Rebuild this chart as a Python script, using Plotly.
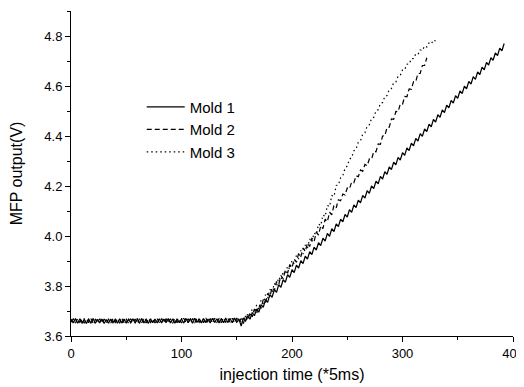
import plotly.graph_objects as go

# sample times (*5 ms), every 2 units
x1 = list(range(0, 393, 2))
x2 = list(range(0, 323, 2))
x3 = list(range(0, 331, 2))

mold1 = [
    3.668, 3.652, 3.670, 3.651, 3.669, 3.653, 3.667, 3.650, 3.668, 3.652,
    3.669, 3.651, 3.667, 3.652, 3.668, 3.650, 3.666, 3.651, 3.668, 3.653,
    3.667, 3.651, 3.669, 3.652, 3.668, 3.651, 3.667, 3.653, 3.669, 3.652,
    3.668, 3.651, 3.670, 3.652, 3.667, 3.651, 3.669, 3.653, 3.668, 3.652,
    3.669, 3.652, 3.668, 3.653, 3.670, 3.652, 3.668, 3.651, 3.669, 3.653,
    3.668, 3.652, 3.670, 3.653, 3.669, 3.651, 3.671, 3.654, 3.669, 3.652,
    3.670, 3.653, 3.668, 3.652, 3.671, 3.654, 3.669, 3.652, 3.670, 3.653,
    3.671, 3.654, 3.669, 3.653, 3.672, 3.655, 3.668, 3.640, 3.672, 3.660,
    3.680, 3.667, 3.694, 3.681, 3.708, 3.695, 3.725, 3.715, 3.745, 3.735,
    3.765, 3.755, 3.785, 3.775, 3.805, 3.795, 3.825, 3.815, 3.845, 3.835,
    3.865, 3.854, 3.883, 3.872, 3.901, 3.890, 3.919, 3.908, 3.937, 3.926,
    3.955, 3.944, 3.973, 3.962, 3.991, 3.980, 4.010, 3.999, 4.029, 4.018,
    4.048, 4.038, 4.067, 4.057, 4.086, 4.076, 4.105, 4.095, 4.124, 4.114,
    4.143, 4.133, 4.162, 4.152, 4.181, 4.171, 4.200, 4.190, 4.219, 4.209,
    4.238, 4.228, 4.257, 4.247, 4.276, 4.266, 4.295, 4.285, 4.314, 4.304,
    4.333, 4.323, 4.352, 4.342, 4.371, 4.361, 4.390, 4.380, 4.409, 4.399,
    4.428, 4.418, 4.447, 4.437, 4.466, 4.456, 4.485, 4.475, 4.504, 4.494,
    4.523, 4.513, 4.542, 4.532, 4.561, 4.551, 4.580, 4.570, 4.599, 4.589,
    4.618, 4.608, 4.637, 4.627, 4.656, 4.646, 4.675, 4.665, 4.694, 4.684,
    4.713, 4.703, 4.732, 4.722, 4.751, 4.741, 4.770,
]

mold2 = [
    3.655, 3.668, 3.652, 3.669, 3.654, 3.667, 3.651, 3.668, 3.653, 3.670,
    3.652, 3.667, 3.654, 3.669, 3.651, 3.668, 3.653, 3.667, 3.652, 3.669,
    3.654, 3.668, 3.651, 3.670, 3.653, 3.667, 3.652, 3.669, 3.654, 3.668,
    3.651, 3.669, 3.653, 3.668, 3.652, 3.670, 3.654, 3.667, 3.652, 3.669,
    3.653, 3.670, 3.652, 3.668, 3.654, 3.669, 3.651, 3.670, 3.653, 3.668,
    3.652, 3.671, 3.654, 3.669, 3.653, 3.670, 3.652, 3.671, 3.655, 3.669,
    3.653, 3.672, 3.654, 3.670, 3.652, 3.671, 3.655, 3.669, 3.653, 3.672,
    3.654, 3.670, 3.655, 3.671, 3.653, 3.672, 3.656, 3.670,
    3.650, 3.680, 3.663, 3.694, 3.677, 3.708, 3.691, 3.722, 3.710, 3.746,
    3.734, 3.770, 3.758, 3.794, 3.782, 3.818, 3.806, 3.842, 3.829, 3.864,
    3.851, 3.886, 3.873, 3.908, 3.895, 3.930, 3.917, 3.952, 3.938, 3.972,
    3.958, 3.992, 3.978, 4.015, 4.004, 4.041, 4.030, 4.067, 4.057, 4.095,
    4.085, 4.123, 4.113, 4.145, 4.141, 4.168, 4.164, 4.192, 4.188, 4.216,
    4.213, 4.241, 4.237, 4.264, 4.259, 4.286, 4.281, 4.308, 4.307, 4.338,
    4.337, 4.368, 4.367, 4.400, 4.401, 4.434, 4.435, 4.468, 4.467, 4.498,
    4.497, 4.528, 4.527, 4.558, 4.557, 4.588, 4.587, 4.618, 4.618, 4.650,
    4.650, 4.682, 4.682, 4.713,
]

mold3 = [
    3.662, 3.650, 3.669, 3.653, 3.668, 3.651, 3.670, 3.652, 3.667, 3.653,
    3.669, 3.651, 3.668, 3.652, 3.670, 3.653, 3.667, 3.651, 3.669, 3.652,
    3.668, 3.653, 3.670, 3.651, 3.667, 3.652, 3.669, 3.653, 3.668, 3.651,
    3.670, 3.652, 3.669, 3.653, 3.667, 3.651, 3.670, 3.652, 3.668, 3.654,
    3.669, 3.652, 3.671, 3.653, 3.668, 3.652, 3.670, 3.654, 3.669, 3.653,
    3.671, 3.652, 3.670, 3.654, 3.668, 3.653, 3.672, 3.655, 3.669, 3.653,
    3.671, 3.654, 3.670, 3.652, 3.672, 3.655, 3.669, 3.654, 3.671, 3.653,
    3.672, 3.655, 3.670, 3.654, 3.673, 3.656, 3.671, 3.655,
    3.677, 3.661, 3.692, 3.676, 3.708, 3.692, 3.724, 3.708, 3.743, 3.730,
    3.765, 3.752, 3.787, 3.775, 3.811, 3.799, 3.835, 3.823, 3.858, 3.845,
    3.880, 3.867, 3.902, 3.888, 3.922, 3.908, 3.942, 3.928, 3.964, 3.952,
    3.988, 3.976, 4.012, 4.006, 4.048, 4.042, 4.084, 4.078, 4.122, 4.118,
    4.162, 4.158, 4.202, 4.204, 4.233, 4.242, 4.271, 4.280, 4.307, 4.314,
    4.341, 4.348, 4.375, 4.381, 4.407, 4.413, 4.439, 4.445, 4.470, 4.475,
    4.500, 4.505, 4.530, 4.534, 4.558, 4.562, 4.586, 4.590, 4.613, 4.616,
    4.639, 4.642, 4.665, 4.666, 4.687, 4.688, 4.709, 4.710, 4.728, 4.726,
    4.744, 4.742, 4.760, 4.756, 4.772, 4.768, 4.784, 4.780,
]

x_ticks = [0, 100, 200, 300, 400]
y_ticks = [3.6, 3.8, 4.0, 4.2, 4.4, 4.6, 4.8]

FONT = "Liberation Sans, Arial, sans-serif"

fig = go.Figure()
fig.add_trace(go.Scatter(x=x1, y=mold1, mode="lines", name="Mold 1",
                         line=dict(color="black", width=1.2)))
fig.add_trace(go.Scatter(x=x2, y=mold2, mode="lines", name="Mold 2",
                         line=dict(color="black", width=1.2, dash="5px,3px")))
fig.add_trace(go.Scatter(x=x3, y=mold3, mode="lines", name="Mold 3",
                         line=dict(color="black", width=1.2, dash="1.5px,3px")))

axis_common = dict(showgrid=False, zeroline=False, showline=True, automargin=False,
                   linecolor="black", linewidth=1, tickcolor="black",
                   tickfont=dict(family=FONT, size=13, color="black"))

# page body has an 8px margin, so the figure is sized to fit inside the window
fig.update_layout(
    width=516, height=379,
    margin=dict(l=63, r=11, t=3, b=51, autoexpand=False),
    paper_bgcolor="white", plot_bgcolor="white",
    font=dict(family=FONT, size=13, color="black"),
    showlegend=True,
    legend=dict(x=0.16, y=0.755, xanchor="left", yanchor="top",
                bgcolor="rgba(0,0,0,0)", font=dict(family=FONT, size=15),
                tracegroupgap=0, itemwidth=38),
    xaxis=dict(range=[0, 400], tickvals=x_ticks, ticks="outside", ticklen=5,
               minor=dict(dtick=50, ticks="outside", ticklen=3, tickcolor="black"),
               title=dict(text="injection time (*5ms)", font=dict(family=FONT, size=16), standoff=9),
               **axis_common),
    yaxis=dict(range=[3.6, 4.9], tickvals=y_ticks, tickformat=".1f", ticks="outside", ticklen=5,
               minor=dict(dtick=0.1, ticks="outside", ticklen=3, tickcolor="black"),
               title=dict(text="MFP output(V)", font=dict(family=FONT, size=16), standoff=18),
               **axis_common),
    xaxis2=dict(range=[0, 400], overlaying="x", side="top", tickvals=x_ticks,
                ticks="inside", ticklen=5, showticklabels=False, automargin=False,
                minor=dict(dtick=50, ticks="inside", ticklen=3, tickcolor="black"),
                showgrid=False, zeroline=False, showline=True, linecolor="black",
                linewidth=1, tickcolor="black"),
    yaxis2=dict(range=[3.6, 4.9], overlaying="y", side="right", tickvals=y_ticks,
                ticks="inside", ticklen=5, showticklabels=False, automargin=False,
                minor=dict(dtick=0.1, ticks="inside", ticklen=3, tickcolor="black"),
                showgrid=False, zeroline=False, showline=True, linecolor="black",
                linewidth=1, tickcolor="black"),
)

fig.write_html("out.html")
